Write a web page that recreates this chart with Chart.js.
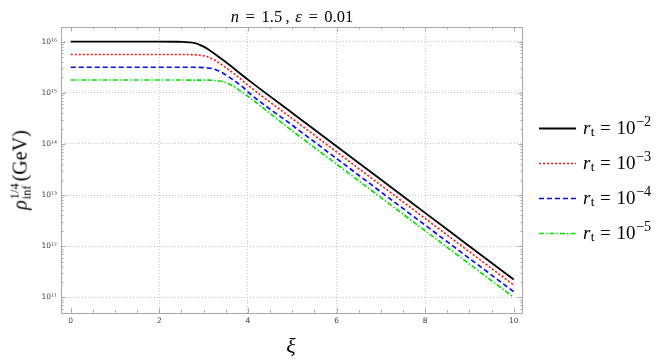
<!DOCTYPE html>
<html>
<head>
<meta charset="utf-8">
<script src="https://cdn.jsdelivr.net/npm/chart.js@4/dist/chart.umd.min.js"></script>
<style>
html,body{margin:0;padding:0;background:#fff;}
#wrap{position:relative;width:664px;height:364px;overflow:hidden;}
#c{position:absolute;left:0;top:0;}
.t{position:absolute;font-family:'Liberation Serif','DejaVu Serif',serif;color:#000;white-space:nowrap;line-height:1;}
.t i{font-style:italic;}
.eq{margin:0 0.3em;}
#title .eq{margin:0 0.4em;}
.sb{font-size:70%;position:relative;top:0.22em;margin-left:0.02em;}
.sp{font-size:75%;position:relative;top:-0.5em;margin-left:0.04em;}
</style>
</head>
<body>
<div id="wrap">
<canvas id="c" width="664" height="364"></canvas>
<div class="t" id="title" style="left:0;width:584px;text-align:center;top:8.5px;font-size:16.5px;"><i>n</i><span class="eq">=</span>1.5<span style="margin-left:0.2em;margin-right:0.35em">,</span><i>ε</i><span class="eq">=</span>0.01</div>
<div class="t" id="ytitle" style="left:21px;top:170px;font-size:20px;transform:translate(-50%,-50%) rotate(-90deg);"><i>ρ</i><span style="display:inline-flex;flex-direction:column;vertical-align:8px;font-size:62%;line-height:1;margin-left:1px;margin-right:2px;"><span>1/4</span><span>inf</span></span>(GeV)</div>
<div class="t" id="xtitle" style="left:291px;top:335px;font-size:22px;transform:translateX(-50%);"><i>ξ</i></div>
<div class="t" style="left:583px;top:117.5px;font-size:19px;"><i>r</i><span class="sb">t</span><span class="eq">=</span>10<span class="sp">−2</span></div>
<div class="t" style="left:583px;top:152.5px;font-size:19px;"><i>r</i><span class="sb">t</span><span class="eq">=</span>10<span class="sp">−3</span></div>
<div class="t" style="left:583px;top:187.5px;font-size:19px;"><i>r</i><span class="sb">t</span><span class="eq">=</span>10<span class="sp">−4</span></div>
<div class="t" style="left:583px;top:222.5px;font-size:19px;"><i>r</i><span class="sb">t</span><span class="eq">=</span>10<span class="sp">−5</span></div>
</div>
<script>
// ---- data (values given as log10 of rho_inf^(1/4) in GeV) ----
const seriesNames = ['r_t = 10^-2', 'r_t = 10^-3', 'r_t = 10^-4', 'r_t = 10^-5'];
const xTickValues = [0, 2, 4, 6, 8, 10];
const yTickExponents = [11, 12, 13, 14, 15, 16];

const xiA = [0, 1, 2, 2.4, 2.5, 2.6, 2.7, 2.8, 2.9, 3.0, 3.1, 3.2, 3.3, 3.5, 4, 5, 6, 7, 8, 9, 10];
const logA = [16, 16, 16, 15.9995, 15.998, 15.994, 15.986, 15.971, 15.944, 15.904, 15.852, 15.793, 15.731, 15.603, 15.2584, 14.607, 13.956, 13.3042, 12.6528, 12.0014, 11.35];

const xiB = [0, 1, 2, 2.62, 2.72, 2.82, 2.92, 3.02, 3.12, 3.22, 3.32, 3.42, 3.52, 3.72, 4, 5, 6, 7, 8, 9, 10];
const logB = [15.75, 15.75, 15.75, 15.7495, 15.748, 15.744, 15.736, 15.721, 15.694, 15.654, 15.602, 15.543, 15.481, 15.353, 15.1484, 14.497, 13.8456, 13.1942, 12.5428, 11.8914, 11.24];

const xiC = [0, 1, 2, 2.8, 2.9, 3.0, 3.1, 3.2, 3.3, 3.4, 3.5, 3.6, 3.7, 3.9, 4, 5, 6, 7, 8, 9, 10];
const logC = [15.5, 15.5, 15.5, 15.4995, 15.498, 15.494, 15.486, 15.471, 15.444, 15.404, 15.352, 15.293, 15.231, 15.103, 15.0184, 14.367, 13.7156, 13.0642, 12.4128, 11.7614, 11.11];

const xiD = [0, 1, 2, 3.02, 3.12, 3.22, 3.32, 3.42, 3.52, 3.62, 3.72, 3.82, 3.92, 4.12, 5, 6, 7, 8, 9, 10];
const logD = [15.25, 15.25, 15.25, 15.2495, 15.248, 15.244, 15.236, 15.221, 15.194, 15.154, 15.102, 15.043, 14.981, 14.853, 14.257, 13.6056, 12.9542, 12.3028, 11.6514, 11.0];

function pts(xs, ls) { return xs.map((x, i) => ({ x: x, y: Math.pow(10, ls[i]) })); }

const SUP = {'0':'⁰','1':'¹','2':'²','3':'³','4':'⁴','5':'⁵','6':'⁶','7':'⁷','8':'⁸','9':'⁹','-':'⁻'};
function supStr(n) { return String(n).split('').map(c => SUP[c] || c).join(''); }

const FRAME = '#a8a8a8';
const GRID = '#c4c4c4';

const frameTicks = {
  id: 'frameTicks',
  beforeDatasetsDraw(chart) {
    const { ctx, chartArea: a, scales: { x, y } } = chart;
    ctx.save();
    ctx.strokeStyle = FRAME;
    ctx.lineWidth = 1;
    ctx.setLineDash([]);
    ctx.beginPath();
    for (let k = 0; k <= 20; k++) {
      const v = k * 0.5;
      const px = Math.round(x.getPixelForValue(v)) + 0.5;
      const len = (k % 4 === 0) ? 4.5 : 2.5;
      ctx.moveTo(px, a.bottom); ctx.lineTo(px, a.bottom - len);
      ctx.moveTo(px, a.top); ctx.lineTo(px, a.top + len);
    }
    for (let e = 10; e <= 16; e++) {
      for (let m = 1; m <= 9; m++) {
        const v = m * Math.pow(10, e);
        if (v < y.min || v > y.max) continue;
        const py = Math.round(y.getPixelForValue(v)) + 0.5;
        const len = m === 1 ? 4.5 : 2.5;
        ctx.moveTo(a.left, py); ctx.lineTo(a.left + len, py);
        ctx.moveTo(a.right, py); ctx.lineTo(a.right - len, py);
      }
    }
    ctx.stroke();
    ctx.strokeRect(Math.round(a.left) + 0.5, Math.round(a.top) + 0.5,
                   Math.round(a.right - a.left) - 1, Math.round(a.bottom - a.top));
    ctx.restore();
  },
  afterDraw(chart) {
    const { ctx } = chart;
    const rows = [128.5, 163.5, 198.5, 233.5];
    ctx.save();
    chart.data.datasets.forEach((ds, i) => {
      ctx.strokeStyle = ds.borderColor;
      ctx.lineWidth = ds.borderWidth;
      ctx.setLineDash(ds.borderDash || []);
      ctx.beginPath();
      ctx.moveTo(539, rows[i]);
      ctx.lineTo(576, rows[i]);
      ctx.stroke();
    });
    ctx.restore();
  }
};

new Chart(document.getElementById('c'), {
  type: 'line',
  data: {
    datasets: [
      { label: seriesNames[0], data: pts(xiA, logA), borderColor: '#000000', borderWidth: 1.8, borderDash: [] },
      { label: seriesNames[1], data: pts(xiB, logB), borderColor: '#ff1010', borderWidth: 1.6, borderDash: [2, 2] },
      { label: seriesNames[2], data: pts(xiC, logC), borderColor: '#0000ff', borderWidth: 1.6, borderDash: [5, 3] },
      { label: seriesNames[3], data: pts(xiD, logD), borderColor: '#00e000', borderWidth: 1.6, borderDash: [5, 2, 1.5, 2] }
    ]
  },
  options: {
    responsive: false,
    animation: false,
    devicePixelRatio: 1,
    layout: { padding: { top: 27, right: 141, left: 0, bottom: 0 } },
    elements: { point: { radius: 0 }, line: { cubicInterpolationMode: 'monotone', fill: false } },
    plugins: { legend: { display: false }, tooltip: { enabled: false }, title: { display: false } },
    scales: {
      x: {
        type: 'linear',
        min: -0.22, max: 10.21,
        afterBuildTicks: s => { s.ticks = xTickValues.map(v => ({ value: v })); },
        afterFit: s => { s.height = 51.3; },
        ticks: { color: '#444', font: { family: 'DejaVu Sans', size: 7.5 }, padding: 4, maxRotation: 0,
                 callback: v => String(v) },
        grid: { drawTicks: false, lineWidth: 1,
                color: c => (c.tick && (c.tick.value === 0 || c.tick.value === 10)) ? 'rgba(0,0,0,0)' : GRID },
        border: { display: false, dash: [1, 2] }
      },
      y: {
        type: 'logarithmic',
        min: Math.pow(10, 10.70), max: Math.pow(10, 16.288),
        afterBuildTicks: s => { s.ticks = yTickExponents.map(e => ({ value: Math.pow(10, e) })); },
        afterFit: s => { s.width = 61; },
        ticks: { color: '#444', font: { family: 'DejaVu Sans', size: 7.5 }, padding: 4,
                 callback: v => '10' + supStr(Math.round(Math.log10(v))) },
        grid: { drawTicks: false, lineWidth: 1, color: GRID },
        border: { display: false, dash: [1, 2] }
      }
    }
  },
  plugins: [frameTicks]
});
</script>
</body>
</html>
